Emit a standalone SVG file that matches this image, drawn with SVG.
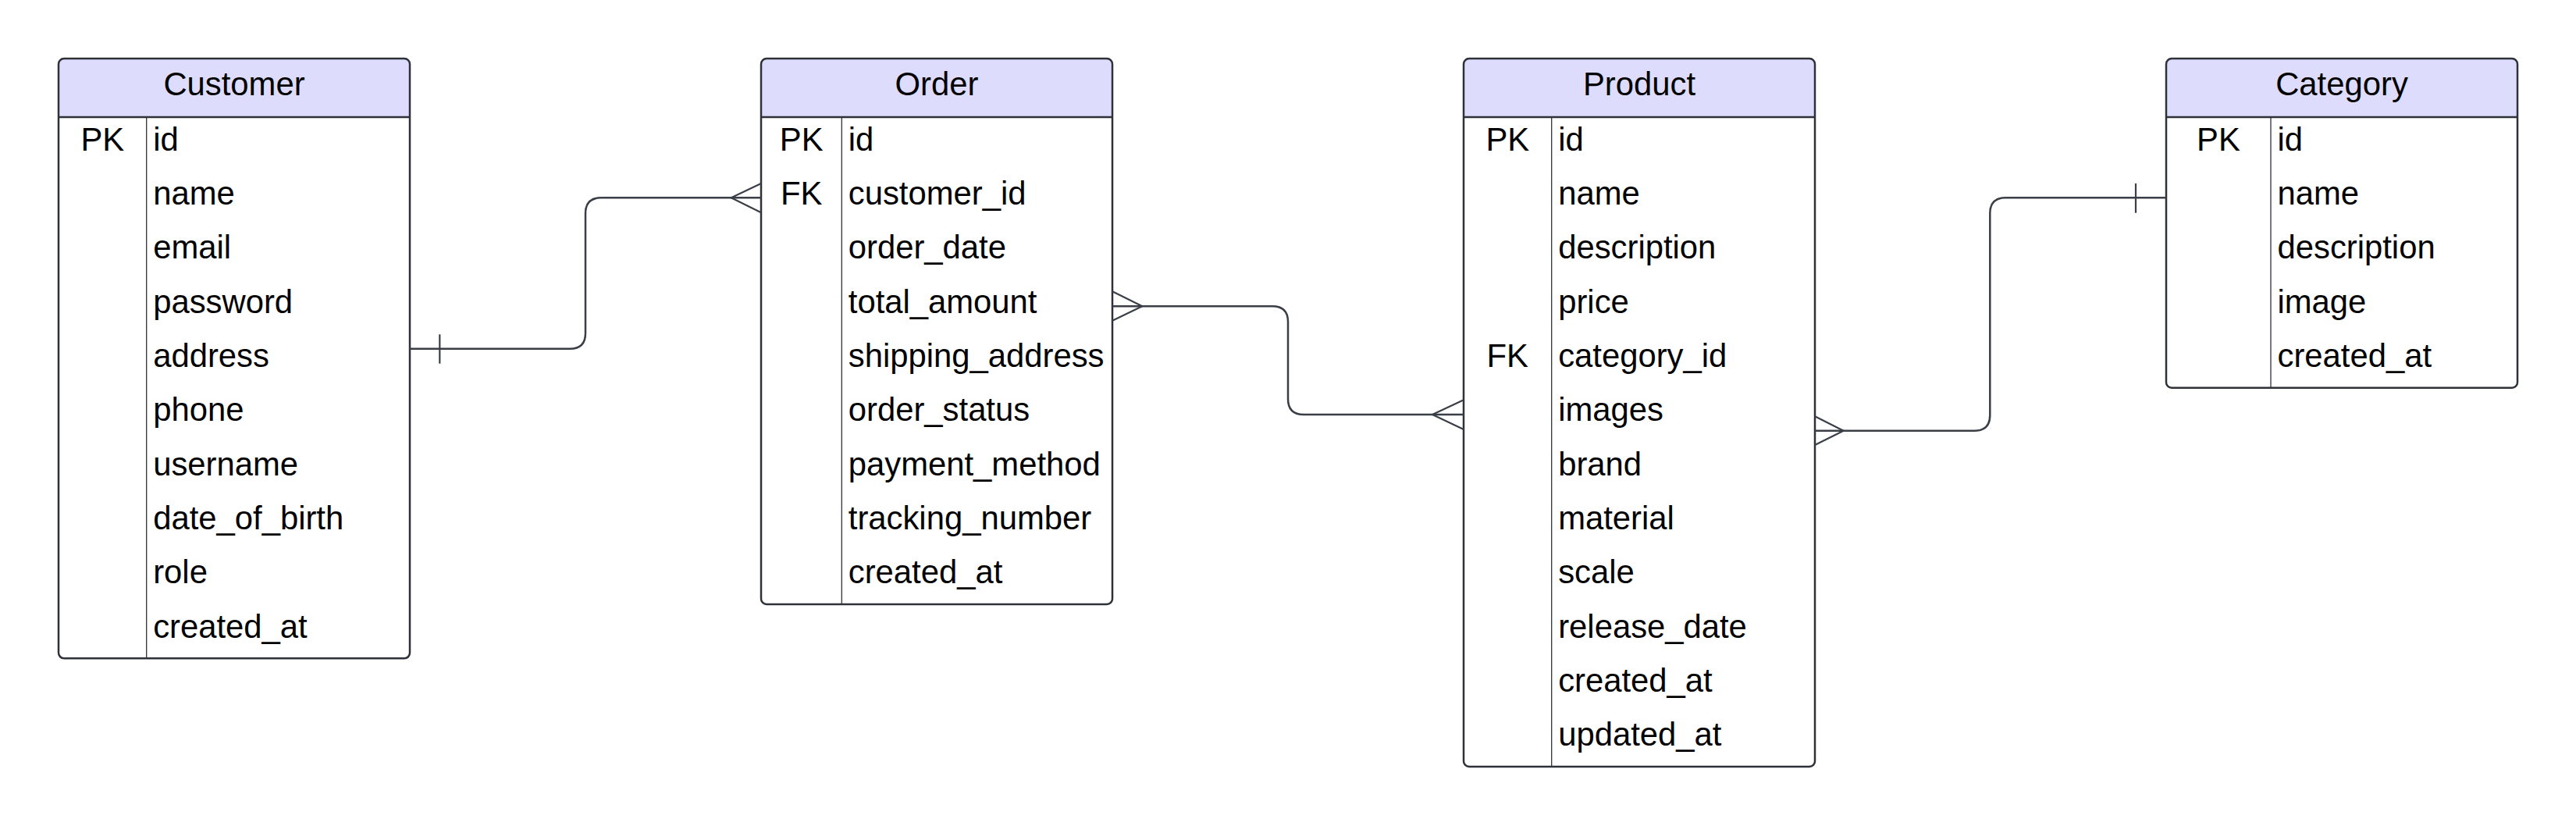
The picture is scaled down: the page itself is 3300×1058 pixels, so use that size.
<svg xmlns="http://www.w3.org/2000/svg" width="3300" height="1058" viewBox="0 0 3300 1058">
<style>
.bg{fill:#ffffff}
.hdr{fill:#dddcfd}
.frame{fill:none;stroke:#2e3138;stroke-width:2.5}
.hline{stroke:#2e3138;stroke-width:2.5}
.div{stroke:#2e3138;stroke-width:1.3}
text{font-family:"Liberation Sans",Arial,sans-serif;font-size:41.8px;fill:#000000}
.title{text-anchor:middle}
.key{text-anchor:middle}
.conn{fill:none;stroke:#3a3e46;stroke-width:2.5;stroke-linejoin:round}
.mark{fill:none;stroke:#3a3e46;stroke-width:2.2}
</style>
<rect class="bg" x="0" y="0" width="3300" height="1058"/>

<g id="customer">
<rect class="bg" x="75" y="75" width="450" height="768.3" rx="7"/>
<path class="hdr" d="M75,150 V82 Q75,75 82,75 H518 Q525,75 525,82 V150 Z"/>
<line class="hline" x1="75" y1="150" x2="525" y2="150"/>
<line class="div" x1="187.7" y1="150" x2="187.7" y2="843.3"/>
<rect class="frame" x="75" y="75" width="450" height="768.3" rx="7"/>
<text class="title" x="300" y="121.5">Customer</text>
<text class="key" x="131.3" y="192.7">PK</text>
<text x="196.2" y="192.7">id</text>
<text x="196.2" y="262">name</text>
<text x="196.2" y="331.3">email</text>
<text x="196.2" y="400.7">password</text>
<text x="196.2" y="470">address</text>
<text x="196.2" y="539.3">phone</text>
<text x="196.2" y="608.7">username</text>
<text x="196.2" y="678">date_of_birth</text>
<text x="196.2" y="747.3">role</text>
<text x="196.2" y="816.7">created_at</text>
</g>

<g id="order">
<rect class="bg" x="975" y="75" width="450" height="699" rx="7"/>
<path class="hdr" d="M975,150 V82 Q975,75 982,75 H1418 Q1425,75 1425,82 V150 Z"/>
<line class="hline" x1="975" y1="150" x2="1425" y2="150"/>
<line class="div" x1="1078.3" y1="150" x2="1078.3" y2="774"/>
<rect class="frame" x="975" y="75" width="450" height="699" rx="7"/>
<text class="title" x="1200" y="121.5">Order</text>
<text class="key" x="1026.7" y="192.7">PK</text>
<text class="key" x="1026.7" y="262">FK</text>
<text x="1086.8" y="192.7">id</text>
<text x="1086.8" y="262">customer_id</text>
<text x="1086.8" y="331.3">order_date</text>
<text x="1086.8" y="400.7">total_amount</text>
<text x="1086.8" y="470">shipping_address</text>
<text x="1086.8" y="539.3">order_status</text>
<text x="1086.8" y="608.7">payment_method</text>
<text x="1086.8" y="678">tracking_number</text>
<text x="1086.8" y="747.3">created_at</text>
</g>

<g id="product">
<rect class="bg" x="1875" y="75" width="450" height="907" rx="7"/>
<path class="hdr" d="M1875,150 V82 Q1875,75 1882,75 H2318 Q2325,75 2325,82 V150 Z"/>
<line class="hline" x1="1875" y1="150" x2="2325" y2="150"/>
<line class="div" x1="1987.7" y1="150" x2="1987.7" y2="982"/>
<rect class="frame" x="1875" y="75" width="450" height="907" rx="7"/>
<text class="title" x="2100" y="121.5">Product</text>
<text class="key" x="1931.3" y="192.7">PK</text>
<text class="key" x="1931.3" y="470">FK</text>
<text x="1996.2" y="192.7">id</text>
<text x="1996.2" y="262">name</text>
<text x="1996.2" y="331.3">description</text>
<text x="1996.2" y="400.7">price</text>
<text x="1996.2" y="470">category_id</text>
<text x="1996.2" y="539.3">images</text>
<text x="1996.2" y="608.7">brand</text>
<text x="1996.2" y="678">material</text>
<text x="1996.2" y="747.3">scale</text>
<text x="1996.2" y="816.7">release_date</text>
<text x="1996.2" y="886">created_at</text>
<text x="1996.2" y="955.3">updated_at</text>
</g>

<g id="category">
<rect class="bg" x="2775" y="75" width="450" height="421.7" rx="7"/>
<path class="hdr" d="M2775,150 V82 Q2775,75 2782,75 H3218 Q3225,75 3225,82 V150 Z"/>
<line class="hline" x1="2775" y1="150" x2="3225" y2="150"/>
<line class="div" x1="2909" y1="150" x2="2909" y2="496.7"/>
<rect class="frame" x="2775" y="75" width="450" height="421.7" rx="7"/>
<text class="title" x="3000" y="121.5">Category</text>
<text class="key" x="2842" y="192.7">PK</text>
<text x="2917.5" y="192.7">id</text>
<text x="2917.5" y="262">name</text>
<text x="2917.5" y="331.3">description</text>
<text x="2917.5" y="400.7">image</text>
<text x="2917.5" y="470">created_at</text>
</g>

<g id="connectors">
<path class="conn" d="M525,446.7 H730 Q750,446.7 750,426.7 V273.3 Q750,253.3 770,253.3 H975"/>
<line class="mark" x1="563.3" y1="428.3" x2="563.3" y2="465.7"/>
<path class="mark" d="M975,235 L936.7,253.3 L975,272.3"/>

<path class="conn" d="M1425,392.3 H1630 Q1650,392.3 1650,412.3 V511 Q1650,531 1670,531 H1875"/>
<path class="mark" d="M1425,373.3 L1463.3,392.3 L1425,410.7"/>
<path class="mark" d="M1875,512.3 L1835,531 L1875,550"/>

<path class="conn" d="M2325,551.7 H2529.3 Q2549.3,551.7 2549.3,531.7 V273.3 Q2549.3,253.3 2569.3,253.3 H2775"/>
<path class="mark" d="M2325,533.3 L2361.7,551.7 L2325,570"/>
<line class="mark" x1="2736" y1="235" x2="2736" y2="272.7"/>
</g>
</svg>
